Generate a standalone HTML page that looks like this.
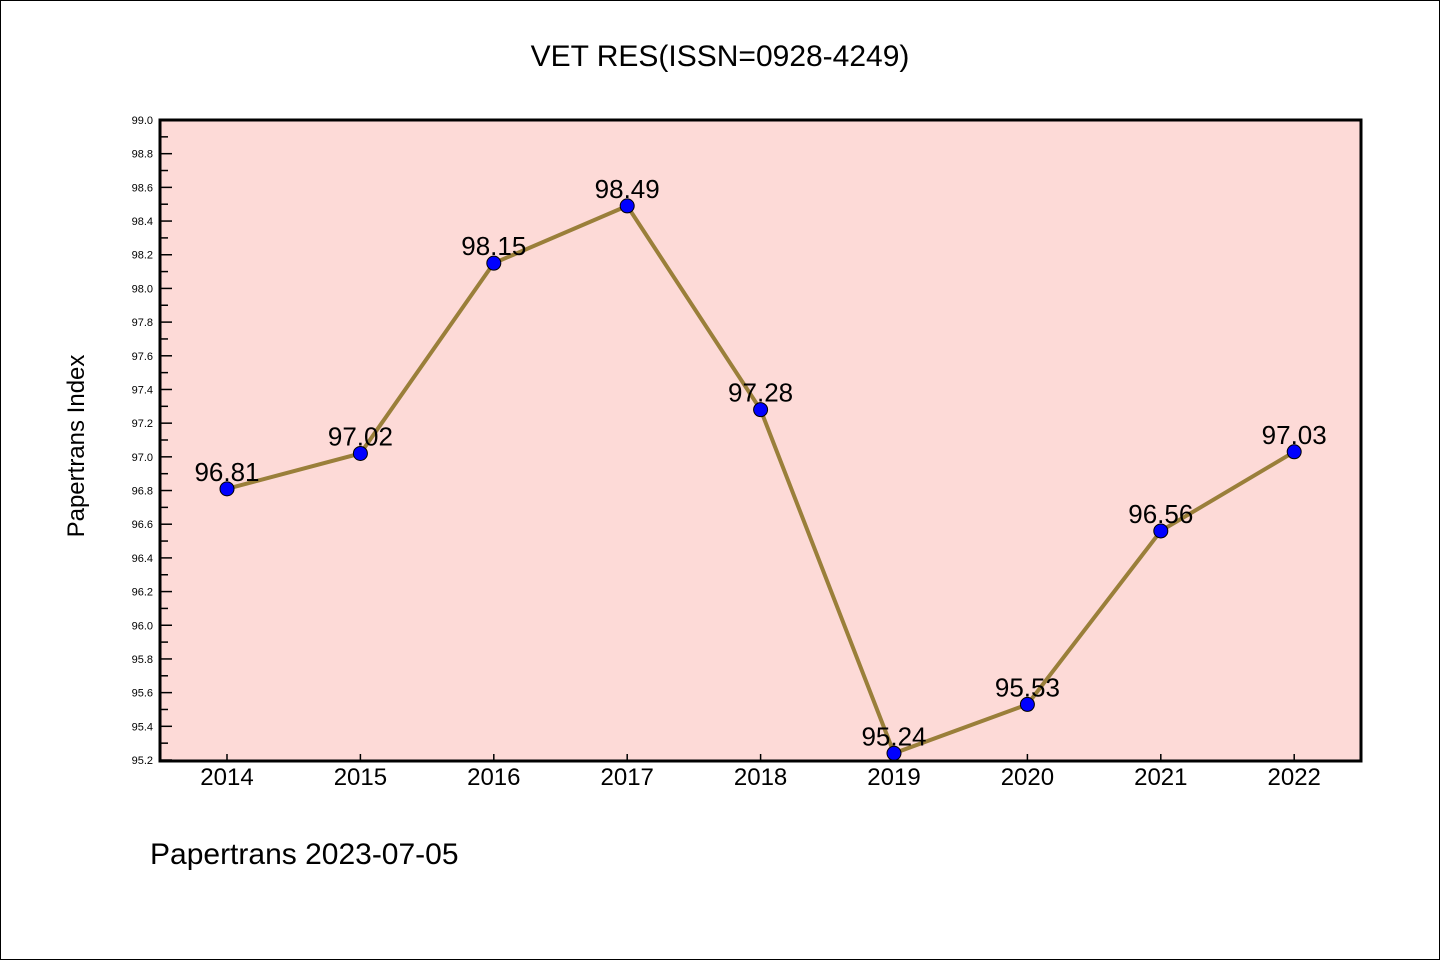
<!DOCTYPE html>
<html><head><meta charset="utf-8"><style>
body{margin:0;background:#fff}
svg{display:block;font-family:"WenQuanYi Zen Hei","Liberation Sans",sans-serif}
</style></head><body>
<svg id="c" width="1440" height="960">
<rect x="0.5" y="0.5" width="1439" height="959" fill="#fff" stroke="#000"/>
<text x="720" y="66" font-size="30" text-anchor="middle">VET RES(ISSN=0928-4249)</text>
<rect x="160" y="120" width="1201" height="641" fill="#fddad7"/>
<g id="ticks"></g>
<g id="series"></g>
<rect x="160" y="120" width="1201" height="641" fill="none" stroke="#000" stroke-width="3"/>
<text transform="translate(84,446) rotate(-90)" font-size="24" text-anchor="middle">Papertrans Index</text>
<text x="150" y="864" font-size="30">Papertrans 2023-07-05</text>
</svg>
<script>
const years=[2014,2015,2016,2017,2018,2019,2020,2021,2022];
const values=[96.81,97.02,98.15,98.49,97.28,95.24,95.53,96.56,97.03];
const yTicks=[95.2,95.4,95.6,95.8,96.0,96.2,96.4,96.6,96.8,97.0,97.2,97.4,97.6,97.8,98.0,98.2,98.4,98.6,98.8,99.0];
const ns='http://www.w3.org/2000/svg';
const X=y=>227+(y-2014)*133.4;
const Y=v=>760-(v-95.2)*(640/3.8);
function mk(t,a,p){const e=document.createElementNS(ns,t);for(const k in a)e.setAttribute(k,a[k]);p.appendChild(e);return e;}
const tg=document.getElementById('ticks'),sg=document.getElementById('series');
yTicks.forEach((v,i)=>{
 const y=Y(v);
 const l=mk('line',{x1:160,x2:172,y1:y,y2:y,stroke:'#000','stroke-width':1.5},tg);
 
 
 if(i<yTicks.length-1){const m=mk('line',{x1:160,x2:168,y1:y-(640/3.8)*0.1,y2:y-(640/3.8)*0.1,stroke:'#000','stroke-width':1.5},tg);
 
 }
 const t=mk('text',{x:153,y:y+4,'font-size':11,'text-anchor':'end'},tg);t.textContent=v.toFixed(1);
 
 
});
years.forEach(yr=>{
 const x=X(yr);
 const l=mk('line',{x1:x,x2:x,y1:760,y2:754,stroke:'#000','stroke-width':1.5},tg);
 
 
 const t=mk('text',{x:x,y:785,'font-size':24,'text-anchor':'middle'},tg);t.textContent=yr;
 
 
});
const pl=mk('polyline',{points:years.map((y,i)=>X(y)+','+Y(values[i])).join(' '),fill:'none',stroke:'#9a7f3a','stroke-width':4},sg);


years.forEach((yr,i)=>{
 const c=mk('circle',{cx:X(yr),cy:Y(values[i]),r:7,fill:'#0000ff',stroke:'#000','stroke-width':1},sg);
 
 
 const t=mk('text',{x:X(yr),y:Y(values[i])-8,'font-size':26,'text-anchor':'middle'},sg);t.textContent=values[i].toFixed(2);
 
 
});
</script>
</body></html>
